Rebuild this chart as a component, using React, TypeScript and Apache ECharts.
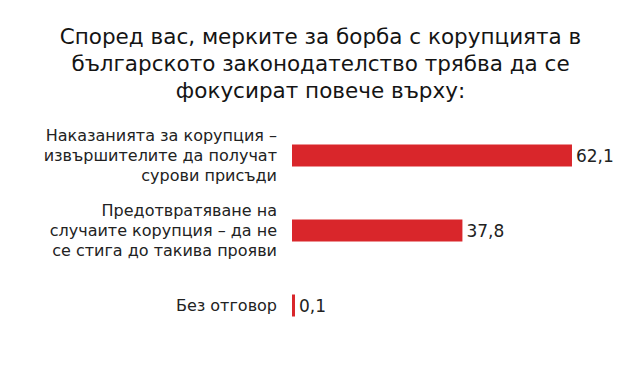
import React, { useEffect, useRef } from "react";
import * as echarts from "echarts";

const titleLines = [
  "Според вас, мерките за борба с корупцията в",
  "българското законодателство трябва да се",
  "фокусират повече върху:",
];
const categories = [
  "Наказанията за корупция –\nизвършителите да получат\nсурови присъди",
  "Предотвратяване на\nслучаите корупция – да не\nсе стига до такива прояви",
  "Без отговор",
];
const values = [62.1, 37.8, 0.1];

export default function App() {
  const ref = useRef<HTMLDivElement>(null);
  useEffect(() => {
    document.body.style.margin = "0";
    const chart = echarts.init(ref.current!, null, { renderer: "svg" });
    chart.setOption({
      animation: false,
      backgroundColor: "#ffffff",
      title: {
        text: titleLines.join("\n"),
        left: "center",
        top: 18,
        textStyle: {
          fontFamily: "DejaVu Sans",
          fontSize: 21.5,
          fontWeight: "normal",
          color: "#141414",
          lineHeight: 27,
        },
      },
      grid: { left: 292, top: 118, width: 315.6, height: 225, containLabel: false },
      xAxis: { type: "value", min: 0, max: 70, show: false },
      yAxis: {
        type: "category",
        data: categories,
        inverse: true,
        axisLine: { show: false },
        axisTick: { show: false },
        axisLabel: {
          margin: 15,
          fontFamily: "DejaVu Sans",
          fontSize: 16,
          lineHeight: 20,
          color: "#222222",
          align: "right",
        },
      },
      series: [
        {
          type: "bar",
          data: values,
          barWidth: 22,
          barMinHeight: 3,
          itemStyle: { color: "#d9262b" },
          label: {
            show: true,
            position: "right",
            distance: 4,
            fontFamily: "DejaVu Sans",
            fontSize: 17,
            color: "#222222",
            formatter: (p: any) => String(p.value).replace(".", ","),
          },
        },
      ],
    });
    return () => chart.dispose();
  }, []);
  return <div ref={ref} style={{ width: 641, height: 373 }} />;
}
